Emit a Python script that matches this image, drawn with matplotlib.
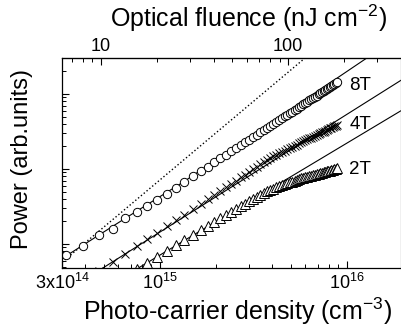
import matplotlib
matplotlib.use("Agg")
import matplotlib.pyplot as plt
import numpy as np
from matplotlib.ticker import LogLocator, NullFormatter, FixedLocator

plt.rcParams["font.family"] = ["Liberation Sans", "DejaVu Sans"]
plt.rcParams["mathtext.default"] = "regular"

# photo-carrier density, units of 1e14 cm^-3 (shared by all three fields)
density_e14 = [3.15, 3.88, 4.73, 5.62, 6.52, 7.55, 8.54, 9.66, 10.9, 12.2, 13.5,
               15.0, 16.5, 18.0, 19.5, 21.0, 22.5, 24.0, 25.5, 27.0, 28.5,
               30.0, 31.5, 33.0, 34.5, 36.0, 37.5, 39.0, 40.5, 42.0, 43.5,
               45.0, 46.5, 48.0, 49.5, 51.0, 52.5, 54.0, 55.5, 57.0, 58.5,
               60.0, 61.5, 63.0, 64.5, 66.0, 67.5, 69.0, 70.5, 72.0, 73.5,
               75.0, 76.5, 78.0, 79.5, 81.0, 82.5, 84.0, 85.5, 87.0, 88.5]

power_8t = [0.0713, 0.0940, 0.1318, 0.1585, 0.2202, 0.2647, 0.3182, 0.3825, 0.4599, 0.5529, 0.6771,
            0.802, 0.937, 1.078, 1.227, 1.383, 1.547, 1.720, 1.896, 2.078, 2.269,
            2.468, 2.673, 2.877, 3.098, 3.316, 3.540, 3.775, 4.016, 4.255, 4.508,
            4.758, 5.021, 5.288, 5.559, 5.834, 6.107, 6.394, 6.694, 6.980, 7.278,
            7.590, 7.899, 8.222, 8.541, 8.850, 9.192, 9.508, 9.856, 10.20, 10.55,
            10.89, 11.24, 11.61, 11.96, 12.35, 12.73, 13.09, 13.46, 13.87, 14.26]

power_4t = [0.0225, 0.0317, 0.0439, 0.0583, 0.0744, 0.0948, 0.1162, 0.1422, 0.1735, 0.2087, 0.2468,
            0.2933, 0.3435, 0.3958, 0.4515, 0.5099, 0.5712, 0.6360, 0.7025, 0.7710, 0.8427,
            0.9177, 0.9951, 1.072, 1.156, 1.238, 1.324, 1.421, 1.489, 1.555, 1.625,
            1.692, 1.762, 1.833, 1.903, 1.973, 2.042, 2.114, 2.189, 2.259, 2.331,
            2.406, 2.479, 2.555, 2.630, 2.702, 2.780, 2.852, 2.931, 3.006, 3.084,
            3.160, 3.236, 3.315, 3.390, 3.473, 3.552, 3.627, 3.705, 3.789, 3.870]

power_2t = [0.0123, 0.0169, 0.0228, 0.0297, 0.0371, 0.0466, 0.0561, 0.0677, 0.0811, 0.0964, 0.1127,
            0.1318, 0.1528, 0.1743, 0.1965, 0.2202, 0.2443, 0.2696, 0.2938, 0.3182, 0.3436,
            0.3698, 0.3970, 0.4233, 0.4515, 0.4801, 0.5074, 0.5313, 0.5495, 0.5684, 0.5879,
            0.6063, 0.6252, 0.6446, 0.6627, 0.6813, 0.7004, 0.7200, 0.7379, 0.7540, 0.7681,
            0.7798, 0.7943, 0.8067, 0.8192, 0.8318, 0.8446, 0.8577, 0.8710, 0.8817, 0.8954,
            0.9064, 0.9177, 0.9318, 0.9433, 0.9550, 0.9667, 0.9787, 0.9908, 1.003, 1.016]

# fit lines and the quadratic guide
fit8_n = [3.0e14, 6.51e14, 1.347e15, 3.436e15, 1.505e16]
fit8_p = [0.0641, 0.2188, 0.681, 3.311, 39.8]
fit4_n = [4.50e14, 1.974e16]
fit4_p = [0.0411, 15.6]
fit2_n = [6.93e14, 1.974e16]
fit2_p = [0.0411, 6.12]
quad_n = [3.0e14, 6.0e15]
quad_p = [0.0572, 30.5]

field_labels = ["8T", "4T", "2T"]
label_pos = [(1.03e16, 13.1), (1.03e16, 3.9), (1.03e16, 1.0)]

fluence_per_density = 10 / 4.848e14  # nJ cm^-2 per cm^-3

n = np.array(density_e14) * 1e14

fig = plt.figure(figsize=(4.02, 3.30), dpi=100)
ax = fig.add_axes([62 / 402, 1 - 268 / 330, 339 / 402, 210 / 330])
ax.set_xscale("log")
ax.set_yscale("log")

ax.plot(quad_n, quad_p, ":", color="black", lw=1.0)
ax.plot(fit8_n, fit8_p, "-", color="black", lw=0.8)
ax.plot(fit4_n, fit4_p, "-", color="black", lw=0.8)
ax.plot(fit2_n, fit2_p, "-", color="black", lw=0.8)

ax.plot(n, power_8t, "o", mfc="white", mec="black", ms=6, mew=0.7, ls="none")
ax.plot(n, power_4t, "x", color="black", ms=6, mew=0.7, ls="none")
ax.plot(n, power_2t, "^", mfc="white", mec="black", ms=6.5, mew=0.7, ls="none")

for lab, (lx, ly) in zip(field_labels, label_pos):
    ax.text(lx, ly, lab, fontsize=13.5, ha="left", va="center")

ax.set_xlim(3e14, 1.945e16)
ax.set_ylim(0.0479, 30.2)

ax.set_xticks([3e14, 1e15, 1e16])
ax.set_xticklabels(["3x10$^{14}$", "10$^{15}$", "10$^{16}$"])
ax.xaxis.set_minor_locator(LogLocator(base=10, subs=np.arange(2, 10)))
ax.xaxis.set_minor_formatter(NullFormatter())
ax.yaxis.set_major_locator(LogLocator(base=10))
ax.yaxis.set_minor_locator(LogLocator(base=10, subs=np.arange(2, 10)))
ax.yaxis.set_major_formatter(NullFormatter())
ax.yaxis.set_minor_formatter(NullFormatter())

ax.tick_params(which="both", direction="in", labelsize=13, top=False, right=False)
ax.tick_params(which="major", length=5, width=0.8)
ax.tick_params(which="minor", length=3, width=0.7)

sec = ax.secondary_xaxis("top", functions=(lambda x: x * fluence_per_density,
                                           lambda f: f / fluence_per_density))
sec.set_xscale("log")
sec.xaxis.set_major_locator(FixedLocator([10, 100]))
sec.xaxis.set_minor_locator(LogLocator(base=10, subs=np.arange(2, 10)))
sec.xaxis.set_minor_formatter(NullFormatter())
sec.set_xticklabels(["10", "100"])
sec.tick_params(which="both", direction="in", labelsize=13, pad=2.5)
sec.tick_params(which="major", length=5, width=0.8)
sec.tick_params(which="minor", length=3, width=0.7)

fig.text(249 / 402, 1 - 18 / 330, "Optical fluence (nJ cm$^{-2}$)",
         fontsize=18, ha="center", va="center")

ax.set_xlabel("Photo-carrier density (cm$^{-3}$)", fontsize=18, va="center")
ax.xaxis.set_label_coords(0.519, -0.205)
ax.set_ylabel("Power (arb.units)", fontsize=17, va="center")
ax.yaxis.set_label_coords(-0.118, 0.52)

for sp in ax.spines.values():
    sp.set_linewidth(0.9)
ax.spines["right"].set_color("#888888")

fig.savefig("out.png", dpi=100)
